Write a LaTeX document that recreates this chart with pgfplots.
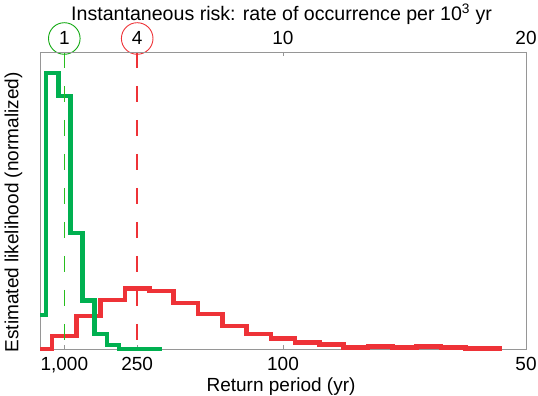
\documentclass[border=0pt]{standalone}
\usepackage{fontspec}
\setmainfont{Liberation Sans}
\usepackage{pgfplots}
\pgfplotsset{compat=1.18}
\definecolor{hgreen}{RGB}{0,176,80}
\definecolor{lgreen}{RGB}{40,190,30}
\definecolor{cgreen}{RGB}{20,170,20}
\definecolor{hred}{RGB}{238,50,55}
\definecolor{axgray}{RGB}{150,150,150}
\begin{document}
\begin{tikzpicture}[font=\fontsize{19}{22}\selectfont]
\begin{axis}[
  at={(0,0)}, anchor=south west, scale only axis,
  width=486pt, height=297pt,
  xmin=0, xmax=20, ymin=0, ymax=297, clip=false,
  axis line style={axgray, line width=0.8pt},
  ytick=\empty,
  xtick={1,4,10,20}, xticklabels={{1,000},250,100,50},
  xtick pos=bottom, tick align=inside, major tick length=4pt,
  tick style={axgray, line width=0.8pt},
  xticklabel style={anchor=base, yshift=-21.7pt, font=\fontsize{19}{22}\selectfont},
  xlabel={Return period (yr)},
  xlabel style={at={(axis description cs:0.496,0)}, anchor=base, yshift=-42.7pt, font=\fontsize{19}{22}\selectfont},
  ylabel={Estimated likelihood (normalized)},
  ylabel style={at={(axis description cs:-0.029,0.46)}, anchor=south, font=\fontsize{19}{22}\selectfont},
]
% red histogram
\addplot[const plot, draw=hred, line width=4.6pt] coordinates {
(0,0) (0.5,13) (1.5,33) (2.5,49) (3.5,60.5) (4.5,58) (5.5,46) (6.5,35) (7.5,23) (8.5,15)
(9.5,10.7) (10.5,6.3) (11.5,4.7) (12.5,1.3) (13.5,2.3) (14.5,1.3) (15.5,2.3) (16.5,1.7) (17.5,0.7) (19,0.7)};
% green histogram
\addplot[const plot, draw=hgreen, line width=4.6pt] coordinates {
(0,34) (0.25,276) (0.75,253) (1.25,116) (1.75,48.5) (2.25,15) (2.75,4) (3.25,0) (5.0,0)};
% dashed estimates
\addplot[draw=lgreen, line width=1.4pt, dash pattern=on 16pt off 18pt] coordinates {(1,297) (1,0)};
\addplot[draw=hred, line width=1.5pt, dash pattern=on 16pt off 18pt] coordinates {(4,297) (4,0)};
\node[anchor=base, font=\fontsize{19.6}{22}\selectfont] at (axis description cs:0.497,1) [yshift=31.3pt]
  {Instantaneous risk: rate of occurrence per 10\textsuperscript{3} yr};
\draw[cgreen, line width=0.9pt] (axis cs:1,310.5) circle[radius=15.8pt];
\draw[hred, line width=0.9pt] (axis cs:4,310.5) circle[radius=15.8pt];
\end{axis}
\begin{axis}[
  at={(0,0)}, anchor=south west, scale only axis,
  width=486pt, height=297pt,
  xmin=0, xmax=20, ymin=0, ymax=297,
  axis x line*=top, axis y line=none,
  axis line style={-, axgray, line width=0.8pt},
  xtick={10,20}, xticklabels={10,20},
  extra x ticks={1,4}, extra x tick labels={1,4},
  extra x tick style={major tick length=0pt},
  tick align=inside, major tick length=4pt,
  tick style={axgray, line width=0.8pt},
  xticklabel style={anchor=base, yshift=7pt, font=\fontsize{19}{22}\selectfont},
]
\end{axis}
\pgfresetboundingbox
\path[use as bounding box] (-40pt,-47pt) rectangle (498pt,349pt);
\end{tikzpicture}
\end{document}
